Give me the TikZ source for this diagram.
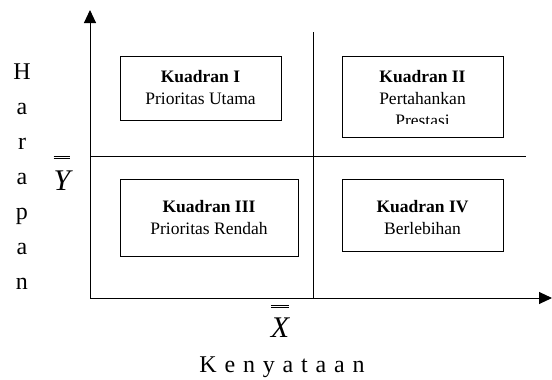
\documentclass[tikz,border=0pt]{standalone}
\usepackage{fontspec}
\setmainfont{Liberation Serif}
\newfontfamily\jarang{Liberation Serif}[WordSpace=1.3]
\usetikzlibrary{arrows.meta}
\begin{document}
\begin{tikzpicture}[x=1pt,y=-1pt,
  kotak/.style={draw,line width=1pt,inner sep=0pt},
  isi/.style={align=center,inner sep=0pt,font=\fontsize{17.5}{22}\selectfont},
  huruf/.style={anchor=base,font=\fontsize{24}{24}\selectfont},
  garis/.style={line width=1pt},
  panah/.style={garis,-{Triangle[length=13pt,width=12pt]}}]
\useasboundingbox (0,0) rectangle (552,380);
% sumbu
\coordinate (O) at (90,298);
\coordinate (ujungY) at (90,10);
\coordinate (ujungX) at (552,298);
\draw[panah] (O)--(ujungY);
\draw[panah] (O)--(ujungX);
% garis pembagi
\coordinate (atas) at (313,32);
\coordinate (bawah) at (313,298);
\coordinate (kiri) at (90,156);
\coordinate (kanan) at (526,156);
\draw[garis] (atas)--(bawah);
\draw[garis] (kiri)--(kanan);
% kuadran
\node[kotak,minimum width=161,minimum height=64] (k1) at (200.5,88) {};
\node[kotak,minimum width=161,minimum height=81] (k2) at (422.5,96.5) {};
\node[kotak,minimum width=178,minimum height=77] (k3) at (209,217.5) {};
\node[kotak,minimum width=161,minimum height=72] (k4) at (422.5,215) {};
\node[isi] (t1) at (k1) {\textbf{Kuadran I}\\Prioritas Utama};
\begin{scope}
\clip (k2.north west) rectangle ([yshift=14pt]k2.south east);
\node[isi,anchor=north] (t2) at (t1.north -| k2) {\textbf{Kuadran II}\\Pertahankan\\Prestasi};
\end{scope}
\node[isi] (t3) at (k3) {\textbf{Kuadran III}\\Prioritas Rendah};
\node[isi,anchor=north] (t4) at (t3.north -| k4) {\textbf{Kuadran IV}\\Berlebihan};
% label sumbu
\foreach \c [count=\i] in {H,a,r,a,p,a,n}
  \node[huruf] (h\i) at (22,{79+35*(\i-1)}) {\c};
\node[anchor=base,inner sep=0pt,font=\fontsize{30}{30}\selectfont] (ybar) at (62,190)
  {$\overline{\overline{\raisebox{0pt}[30pt]{\itshape Y}}}$};
\node[anchor=base,inner sep=0pt,font=\fontsize{30}{30}\selectfont] (xbar) at (280,337)
  {$\overline{\overline{\raisebox{0pt}[28pt]{\itshape X}}}$};
\node[anchor=base,font=\fontsize{24}{24}\selectfont\jarang] (kny) at (282,372) {K e n y a t a a n};
\end{tikzpicture}
\end{document}
